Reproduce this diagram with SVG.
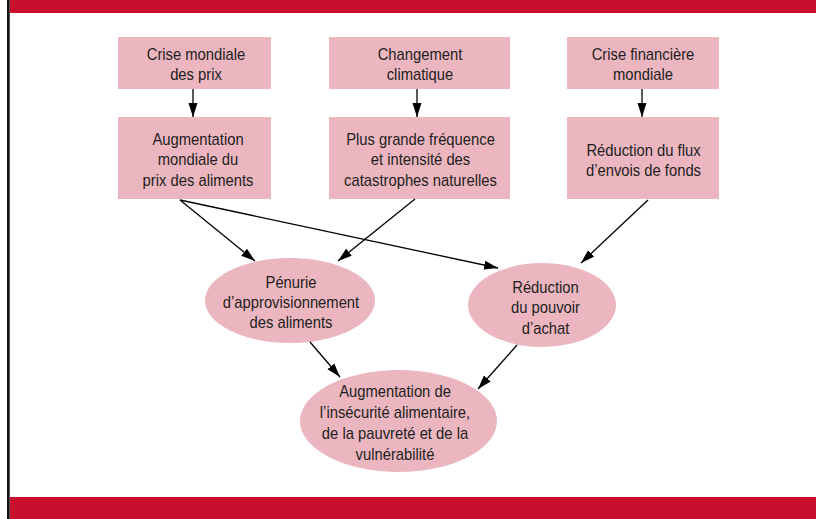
<svg xmlns="http://www.w3.org/2000/svg" width="816" height="519" viewBox="0 0 816 519">
  <style>
    .box { fill: #ecb6c1; }
    .t { font-family: "Liberation Sans", Arial, sans-serif; font-size: 17px; fill: #231f20; text-anchor: middle; }
    .conn line { stroke: #000; stroke-width: 1.3; fill: none; marker-end: url(#ah); }
    .band { fill: #c8102e; }
  </style>
  <defs>
    <marker id="ah" markerUnits="userSpaceOnUse" markerWidth="14" markerHeight="10" refX="14" refY="4.5" orient="auto" viewBox="0 0 14 9">
      <path d="M0,0 L14,4.5 L0,9 z" fill="#000"/>
    </marker>
  </defs>

  <rect width="816" height="519" fill="#fff"/>
  <rect class="band" x="10" y="0" width="806" height="13"/>
  <rect class="band" x="10" y="497" width="806" height="22"/>
  <rect x="7" y="0" width="2.7" height="519" fill="#111"/>

  <g id="crise-prix">
    <rect class="box" x="118" y="37" width="153" height="52"/>
    <text class="t" transform="translate(196 0) scale(0.87 1)"><tspan x="0" y="60">Crise mondiale</tspan><tspan x="0" y="80">des prix</tspan></text>
  </g>
  <g id="changement">
    <rect class="box" x="329" y="37" width="181" height="52"/>
    <text class="t" transform="translate(420 0) scale(0.87 1)"><tspan x="0" y="60">Changement</tspan><tspan x="0" y="80">climatique</tspan></text>
  </g>
  <g id="crise-financiere">
    <rect class="box" x="567" y="37" width="152" height="52"/>
    <text class="t" transform="translate(643 0) scale(0.87 1)"><tspan x="0" y="60">Crise financière</tspan><tspan x="0" y="80">mondiale</tspan></text>
  </g>

  <g id="augmentation-prix">
    <rect class="box" x="118" y="117" width="153" height="82"/>
    <text class="t" transform="translate(198 0) scale(0.87 1)"><tspan x="0" y="145">Augmentation</tspan><tspan x="0" y="165.5">mondiale du</tspan><tspan x="0" y="186">prix des aliments</tspan></text>
  </g>
  <g id="catastrophes">
    <rect class="box" x="329" y="117" width="181" height="82"/>
    <text class="t" transform="translate(420.5 0) scale(0.87 1)"><tspan x="0" y="145">Plus grande fréquence</tspan><tspan x="0" y="165.5">et intensité des</tspan><tspan x="0" y="186">catastrophes naturelles</tspan></text>
  </g>
  <g id="envois">
    <rect class="box" x="567" y="117" width="152" height="82"/>
    <text class="t" transform="translate(643.5 0) scale(0.87 1)"><tspan x="0" y="156">Réduction du flux</tspan><tspan x="0" y="176.5">d’envois de fonds</tspan></text>
  </g>

  <g id="penurie">
    <ellipse class="box" cx="290" cy="300.5" rx="85" ry="42.5"/>
    <text class="t" transform="translate(291 0) scale(0.87 1)"><tspan x="0" y="288">Pénurie</tspan><tspan x="0" y="308">d’approvisionnement</tspan><tspan x="0" y="328">des aliments</tspan></text>
  </g>
  <g id="pouvoir">
    <ellipse class="box" cx="542" cy="305" rx="74" ry="42"/>
    <text class="t" transform="translate(545.5 0) scale(0.87 1)"><tspan x="0" y="292.7">Réduction</tspan><tspan x="0" y="313.3">du pouvoir</tspan><tspan x="0" y="334">d’achat</tspan></text>
  </g>
  <g id="insecurite">
    <ellipse class="box" cx="398.5" cy="421" rx="98.5" ry="51"/>
    <text class="t" transform="translate(395 0) scale(0.87 1)"><tspan x="0" y="397">Augmentation de</tspan><tspan x="0" y="418">l’insécurité alimentaire,</tspan><tspan x="0" y="439">de la pauvreté et de la</tspan><tspan x="0" y="460">vulnérabilité</tspan></text>
  </g>

  <g id="connectors" class="conn">
    <line x1="193" y1="89" x2="193" y2="117"/>
    <line x1="417" y1="89" x2="417" y2="117"/>
    <line x1="642" y1="89" x2="642" y2="117"/>
    <line x1="180" y1="200" x2="255" y2="261"/>
    <line x1="180" y1="200" x2="498" y2="268"/>
    <line x1="415" y1="199" x2="338" y2="261"/>
    <line x1="648" y1="200" x2="581" y2="263"/>
    <line x1="310" y1="342" x2="340" y2="377"/>
    <line x1="517" y1="345" x2="478" y2="389"/>
  </g>
</svg>
